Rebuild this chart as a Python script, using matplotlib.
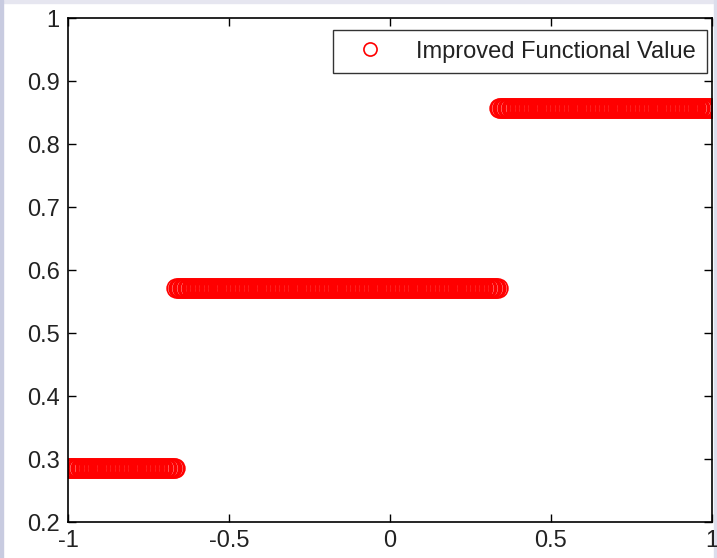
import numpy as np
import matplotlib
matplotlib.use("Agg")
import matplotlib.pyplot as plt
from matplotlib.patches import Rectangle

# step levels (approx 2/7, 4/7, 6/7)
levels = [0.2857, 0.5714, 0.8571]
# x where the value jumps to the next level
breaks = [-0.665, 0.335]
# sampled domain
x_start, x_end, n_samples = -1.0, 1.0, 500

x_ticks = [-1, -0.5, 0, 0.5, 1]
y_ticks = [0.2, 0.3, 0.4, 0.5, 0.6, 0.7, 0.8, 0.9, 1]
y_tick_labels = ["0.2", "0.3", "0.4", "0.5", "0.6", "0.7", "0.8", "0.9", "1"]
x_tick_labels = ["-1", "-0.5", "0", "0.5", "1"]

x = np.linspace(x_start, x_end, n_samples)
y = np.array(levels)[np.digitize(x, breaks)]

plt.rcParams['font.family'] = ['Liberation Sans', 'DejaVu Sans']

fig = plt.figure(figsize=(7.17, 5.58), dpi=100, facecolor="white")
# thin screenshot border
fig.patches.append(Rectangle((0, 0.994), 1, 0.006, transform=fig.transFigure,
                             color="#e6e6f0", zorder=-1))
fig.patches.append(Rectangle((0, 0), 0.004, 1, transform=fig.transFigure,
                             color="#c8cbe0", zorder=-1))
fig.patches.append(Rectangle((0.996, 0), 0.004, 1, transform=fig.transFigure,
                             color="#dcdeec", zorder=-1))

ax = fig.add_axes([0.0948, 0.0645, 0.898, 0.9032])
ax.plot(x, y, linestyle="none", marker="o", markersize=13.5, markerfacecolor="none",
        markeredgecolor="#ff0000", markeredgewidth=1.2, label="Improved Functional Value")

ax.set_xlim(-1, 1)
ax.set_ylim(0.2, 1)
ax.set_xticks(x_ticks)
ax.set_xticklabels(x_tick_labels)
ax.set_yticks(y_ticks)
ax.set_yticklabels(y_tick_labels)
ax.tick_params(direction="in", length=6, width=1, top=True, right=True,
               labelsize=17, pad=6, colors="black", labelcolor="#222222")
for s in ax.spines.values():
    s.set_linewidth(1.2)

leg = ax.legend(loc="upper right", fontsize=17, frameon=True, fancybox=False,
                edgecolor="black", borderpad=0.45, handletextpad=0.8,
                markerscale=0.7, handlelength=2.3, borderaxespad=0,
                bbox_to_anchor=(0.9922, 0.976))
leg.get_frame().set_linewidth(1.0)
for t in leg.get_texts():
    t.set_color("#222222")

fig.savefig("out.png", dpi=100, facecolor=fig.get_facecolor())
